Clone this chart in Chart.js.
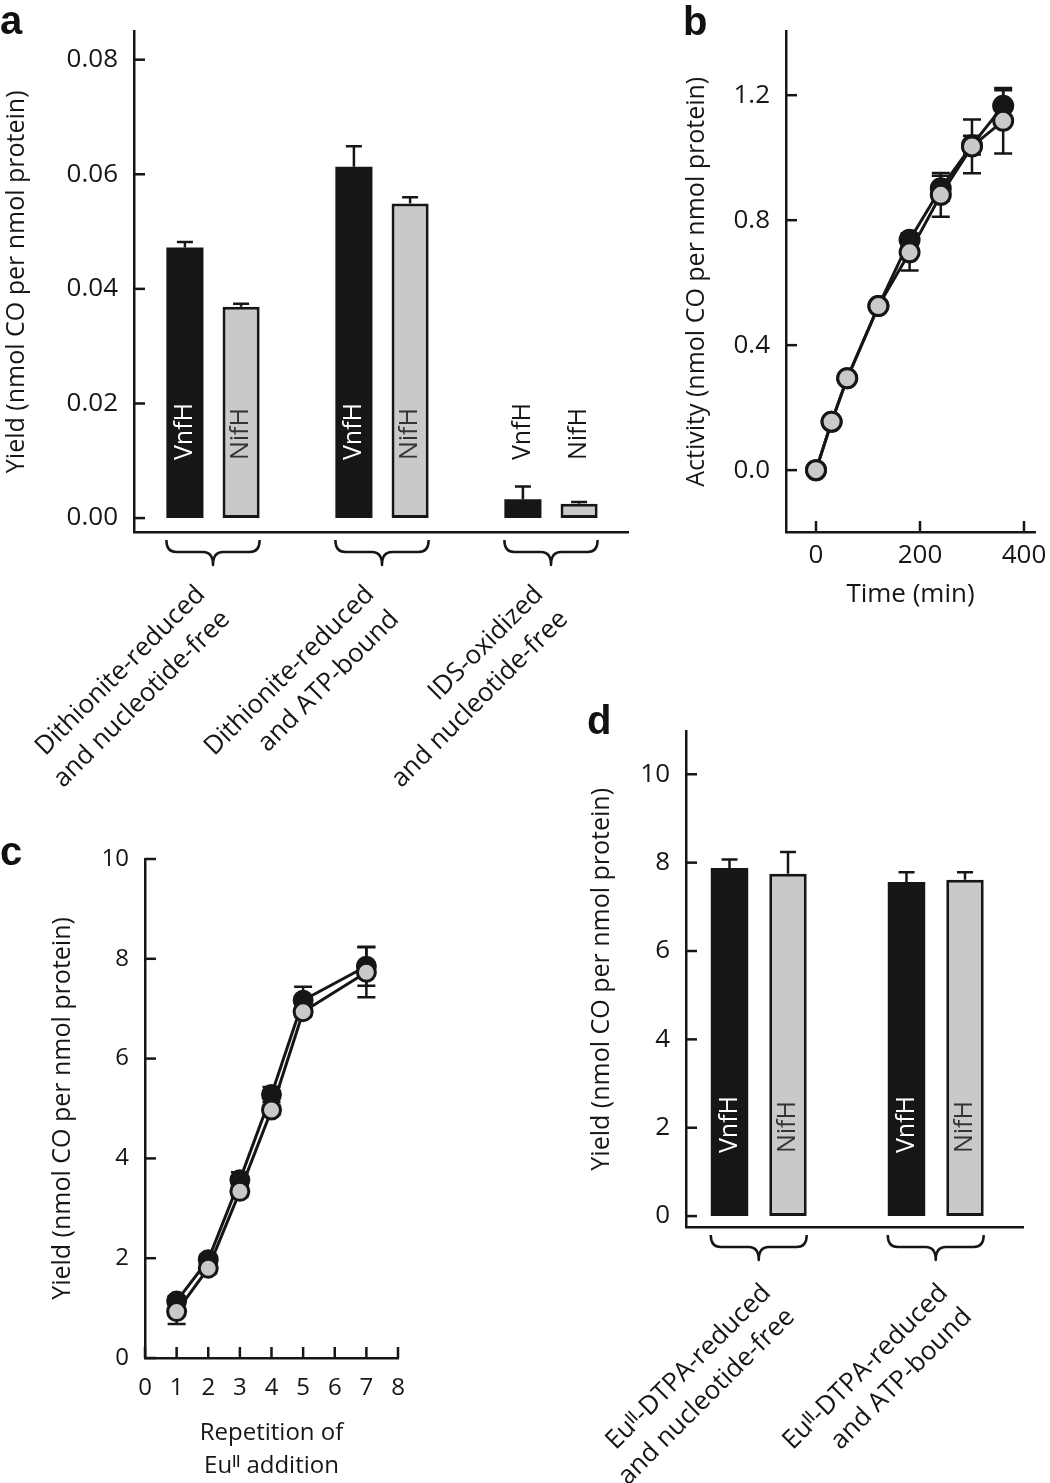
<!DOCTYPE html>
<html>
<head>
<meta charset="utf-8">
<script src="https://cdn.jsdelivr.net/npm/chart.js@4.4.1/dist/chart.umd.min.js"></script>
<style>
  html, body { margin: 0; padding: 0; background: #fff; }
  body { width: 1050px; height: 1483px; position: relative; overflow: hidden; }
  canvas { position: absolute; }
  .panel { position: absolute; font: bold 40px "Liberation Sans", Arial, sans-serif; line-height: 40px; color: #111; z-index: 2; }
</style>
</head>
<body>
<canvas id="chartA" width="660" height="790" style="left:0;top:0"></canvas>
<canvas id="chartB" width="370" height="620" style="left:680px;top:0"></canvas>
<canvas id="chartC" width="440" height="663" style="left:0;top:820px"></canvas>
<canvas id="chartD" width="500" height="783" style="left:550px;top:700px"></canvas>
<div class="panel" style="left:0;top:0">a</div>
<div class="panel" style="left:683px;top:1px">b</div>
<div class="panel" style="left:0;top:831px">c</div>
<div class="panel" style="left:587px;top:700px">d</div>
<script>
const INK = '#161616';
const GREY = '#c9c9c9';

// a: CO yield per Fe protein state
const groupsA = [
    ['Dithionite-reduced', 'and nucleotide-free'],
    ['Dithionite-reduced', 'and ATP-bound'],
    ['IDS-oxidized', 'and nucleotide-free']
];
const vnfhYieldA = [0.0472, 0.0613, 0.0033];
const vnfhErrA = [0.0010, 0.0036, 0.0022];
const nifhYieldA = [0.0369, 0.0549, 0.0025];
const nifhErrA = [0.0005, 0.0011, 0.0003];
const yTicksA = [0, 0.02, 0.04, 0.06, 0.08];

// b: activity over time
const timeB = [0, 30, 60, 120, 180, 240, 300, 360];
const vnfhActB = [0, 0.155, 0.294, 0.525, 0.737, 0.902, 1.04, 1.166];
const vnfhErrB = [0, 0, 0, 0, 0.02, 0.04, 0.03, 0.05];
const nifhActB = [0, 0.155, 0.294, 0.525, 0.697, 0.881, 1.036, 1.118];
const nifhErrB = [0, 0, 0, 0, 0.058, 0.07, 0.086, 0.105];
const xTicksB = [0, 200, 400];
const yTicksB = [0, 0.4, 0.8, 1.2];

// c: repeated Eu(II) additions
const repsC = [1, 2, 3, 4, 5, 7];
const vnfhYieldC = [1.14, 1.97, 3.57, 5.28, 7.17, 7.85];
const vnfhErrC = [0.1, 0.1, 0.15, 0.15, 0.27, 0.39];
const nifhYieldC = [0.93, 1.80, 3.34, 4.97, 6.94, 7.73];
const nifhErrC = [0.25, 0.1, 0.1, 0.1, 0.1, 0.5];
const xTicksC = [0, 1, 2, 3, 4, 5, 6, 7, 8];
const yTicksC = [0, 2, 4, 6, 8, 10];

// d: Eu(II)-DTPA reduced
const groupsD = [
    ['Euᴵᴵ-DTPA-reduced', 'and nucleotide-free'],
    ['Euᴵᴵ-DTPA-reduced', 'and ATP-bound']
];
const vnfhYieldD = [7.88, 7.56];
const vnfhErrD = [0.19, 0.22];
const nifhYieldD = [7.75, 7.61];
const nifhErrD = [0.49, 0.17];
const yTicksD = [0, 2, 4, 6, 8, 10];

Chart.defaults.font.family = '"Open Sans", sans-serif';
Chart.defaults.color = INK;

/* =======================
   SMALL HELPERS
======================= */

const setTicks = vals => scale => { scale.ticks = vals.map(v => ({ value: v })); };
const fixW = w => scale => { scale.width = w; };
// fixed height, and no extra room asked for the slanted labels
const fixH = h => scale => {
    scale.height = h;
    scale.paddingLeft = 0;
    scale.paddingRight = 0;
};
const toPoints = (xs, ys) => xs.map((x, i) => ({ x: x, y: ys[i] }));
const noGrid = { display: false, drawTicks: false };
const axisLine = { display: true, color: INK, width: 2.5 };

/* =======================
   PLUGINS
======================= */

// error bars, drawn under the marks
const errBars = {
    id: 'errBars',
    beforeDatasetsDraw(chart, args, opts) {
        const { ctx } = chart;
        const y = chart.scales.y;
        ctx.save();
        ctx.strokeStyle = INK;
        ctx.lineWidth = 2.5;
        chart.data.datasets.forEach((ds, di) => {
            chart.getDatasetMeta(di).data.forEach((el, i) => {
                const e = ds.errors[i];
                if (!e) return;
                const v = ds.data[i].y;
                const hi = y.getPixelForValue(v + e);
                const lo = y.getPixelForValue(opts.upOnly ? v : v - e);
                ctx.beginPath();
                ctx.moveTo(el.x, lo);
                ctx.lineTo(el.x, hi);
                ctx.moveTo(el.x - opts.cap, hi);
                ctx.lineTo(el.x + opts.cap, hi);
                if (!opts.upOnly) {
                    ctx.moveTo(el.x - opts.cap, lo);
                    ctx.lineTo(el.x + opts.cap, lo);
                }
                ctx.stroke();
            });
        });
        ctx.restore();
    }
};

// "VnfH" / "NifH" written upwards in each bar
const barText = {
    id: 'barText',
    afterDatasetsDraw(chart, args, opts) {
        const { ctx } = chart;
        const base = chart.scales.y.getPixelForValue(0) - opts.lift;
        ctx.save();
        ctx.font = '25px "Open Sans"';
        ctx.textBaseline = 'middle';
        chart.data.datasets.forEach((ds, di) => {
            chart.getDatasetMeta(di).data.forEach((bar, i) => {
                ctx.save();
                ctx.translate(bar.x, base);
                ctx.rotate(-Math.PI / 2);
                ctx.fillStyle = ds.textColor[i];
                ctx.fillText(ds.label, 0, 0);
                ctx.restore();
            });
        });
        ctx.restore();
    }
};

// curly brackets under each pair of bars
const brackets = {
    id: 'brackets',
    afterDraw(chart) {
        const { ctx, chartArea } = chart;
        const first = chart.getDatasetMeta(0).data;
        const second = chart.getDatasetMeta(1).data;
        const top = chartArea.bottom + 8, mid = chartArea.bottom + 20, tip = chartArea.bottom + 33, r = 10;
        ctx.save();
        ctx.strokeStyle = INK;
        ctx.lineWidth = 2.5;
        ctx.lineJoin = 'round';
        first.forEach((bar, i) => {
            const l = bar.x - bar.width / 2;
            const rr = second[i].x + second[i].width / 2;
            const c = (l + rr) / 2;
            ctx.beginPath();
            ctx.moveTo(l, top);
            ctx.quadraticCurveTo(l, mid, l + r, mid);
            ctx.lineTo(c - r, mid);
            ctx.quadraticCurveTo(c, mid, c, tip);
            ctx.quadraticCurveTo(c, mid, c + r, mid);
            ctx.lineTo(rr - r, mid);
            ctx.quadraticCurveTo(rr, mid, rr, top);
            ctx.stroke();
        });
        ctx.restore();
    }
};

// tick marks pointing into the plot
const inTicks = {
    id: 'inTicks',
    afterDraw(chart, args, opts) {
        const { ctx, chartArea } = chart;
        ctx.save();
        ctx.strokeStyle = INK;
        ctx.lineWidth = 2.5;
        opts.axes.forEach(id => {
            const s = chart.scales[id];
            s.ticks.forEach(t => {
                const p = s.getPixelForValue(t.value);
                ctx.beginPath();
                if (s.isHorizontal()) {
                    ctx.moveTo(p, chartArea.bottom);
                    ctx.lineTo(p, chartArea.bottom - opts.len);
                } else {
                    ctx.moveTo(chartArea.left, p);
                    ctx.lineTo(chartArea.left + opts.len, p);
                }
                ctx.stroke();
            });
        });
        ctx.restore();
    }
};

/* =======================
   BAR PANELS (a, d)
======================= */

function barPanel(id, o) {
    new Chart(document.getElementById(id), {
        type: 'bar',
        data: {
            datasets: [{
                label: 'VnfH',
                data: toPoints(o.groups.map((g, i) => i + 1), o.vnfh),
                errors: o.vnfhErr,
                textColor: o.vnfhText,
                backgroundColor: INK,
                borderWidth: 0,
                categoryPercentage: o.cp,
                barPercentage: o.bp
            }, {
                label: 'NifH',
                data: toPoints(o.groups.map((g, i) => i + 1), o.nifh),
                errors: o.nifhErr,
                textColor: o.nifhText,
                backgroundColor: GREY,
                borderColor: INK,
                borderWidth: 3,
                borderSkipped: false,
                categoryPercentage: o.cp,
                barPercentage: o.bp
            }]
        },
        options: {
            responsive: false,
            animation: false,
            layout: { padding: { left: 0, top: o.padTop, right: o.padRight, bottom: 0 } },
            plugins: {
                legend: { display: false },
                tooltip: { enabled: false },
                errBars: { upOnly: true, cap: 8 },
                barText: { lift: o.lift },
                inTicks: { axes: ['y'], len: 11 }
            },
            scales: {
                x: {
                    type: 'linear',
                    offset: false,
                    min: o.xMin,
                    max: o.xMax,
                    afterBuildTicks: setTicks(o.groups.map((g, i) => i + 1)),
                    afterFit: fixH(o.xHeight),
                    grid: noGrid,
                    border: axisLine,
                    ticks: {
                        autoSkip: false,
                        minRotation: 45,
                        maxRotation: 45,
                        padding: o.labelPad,
                        labelOffset: o.labelShift,
                        color: INK,
                        font: { size: 26, lineHeight: o.labelLh },
                        callback: v => o.groups[v - 1]
                    }
                },
                y: {
                    min: o.yMin,
                    max: o.yMax,
                    afterBuildTicks: setTicks(o.yTicks),
                    afterFit: fixW(o.yWidth),
                    grid: noGrid,
                    border: axisLine,
                    ticks: { padding: 16, color: INK, font: { size: 26 }, callback: o.fmt },
                    title: {
                        display: true,
                        text: 'Yield (nmol CO per nmol protein)',
                        color: INK,
                        font: { size: 25 },
                        padding: { top: o.titlePad, bottom: 0 }
                    }
                }
            }
        },
        plugins: [errBars, barText, brackets, inTicks]
    });
}

barPanel('chartA', {
    groups: groupsA,
    vnfh: vnfhYieldA, vnfhErr: vnfhErrA, vnfhText: ['#fff', '#fff', INK],
    nifh: nifhYieldA, nifhErr: nifhErrA, nifhText: ['#333', '#333', INK],
    cp: 0.665, bp: 0.66,
    xMin: 0.5325, xMax: 3.4556,
    yMin: -0.00243, yMax: 0.0849, yTicks: yTicksA, fmt: v => v.toFixed(2),
    padTop: 30, padRight: 32, xHeight: 258, yWidth: 134,
    labelPad: 46, labelShift: -12, labelLh: 1.35,
    lift: 58, titlePad: 1.5
});

barPanel('chartD', {
    groups: groupsD,
    vnfh: vnfhYieldD, vnfhErr: vnfhErrD, vnfhText: ['#fff', '#fff'],
    nifh: nifhYieldD, nifhErr: nifhErrD, nifhText: ['#333', '#333'],
    cp: 0.661, bp: 0.64,
    xMin: 0.589, xMax: 2.493,
    yMin: -0.247, yMax: 10.966, yTicks: yTicksD, fmt: v => String(v),
    padTop: 28, padRight: 27, xHeight: 256, yWidth: 136,
    labelPad: 50, labelShift: 8, labelLh: 1.3,
    lift: 63, titlePad: 37
});

/* =======================
   LINE PANELS (b, c)
======================= */

function linePanel(id, o) {
    const series = (label, ys, errs, fill, order) => ({
        label: label,
        data: toPoints(o.xs, ys),
        errors: errs,
        showLine: true,
        borderColor: INK,
        borderWidth: 3,
        pointRadius: o.radius,
        pointBorderWidth: 3,
        pointBorderColor: INK,
        pointBackgroundColor: fill,
        order: order
    });
    new Chart(document.getElementById(id), {
        type: 'scatter',
        data: {
            datasets: [
                series('VnfH', o.vnfh, o.vnfhErr, INK, 2),
                series('NifH', o.nifh, o.nifhErr, GREY, 1)
            ]
        },
        options: {
            responsive: false,
            animation: false,
            layout: { padding: { left: 0, top: o.padTop, right: o.padRight, bottom: 0 } },
            plugins: {
                legend: { display: false },
                tooltip: { enabled: false },
                errBars: { upOnly: false, cap: 9 },
                inTicks: { axes: ['x', 'y'], len: 11 }
            },
            scales: {
                x: {
                    type: 'linear',
                    min: o.xMin,
                    max: o.xMax,
                    afterBuildTicks: setTicks(o.xTicks),
                    afterFit: fixH(o.xHeight),
                    grid: noGrid,
                    border: axisLine,
                    ticks: { padding: o.xPad, color: INK, font: { size: o.tickSize } },
                    title: {
                        display: true,
                        text: o.xTitle,
                        color: INK,
                        font: { size: o.xTitleSize, lineHeight: 1.35 },
                        padding: { top: 0, bottom: o.xTitlePad }
                    }
                },
                y: {
                    min: o.yMin,
                    max: o.yMax,
                    afterBuildTicks: setTicks(o.yTicks),
                    afterFit: fixW(o.yWidth),
                    grid: noGrid,
                    border: axisLine,
                    ticks: { padding: 16, color: INK, font: { size: o.tickSize }, callback: o.fmt },
                    title: {
                        display: true,
                        text: o.yTitle,
                        color: INK,
                        font: { size: 25 },
                        padding: { top: o.titlePad, bottom: 0 }
                    }
                }
            }
        },
        plugins: [errBars, inTicks]
    });
}

linePanel('chartB', {
    xs: timeB,
    vnfh: vnfhActB, vnfhErr: vnfhErrB,
    nifh: nifhActB, nifhErr: nifhErrB,
    xMin: -57.7, xMax: 421.2, xTicks: xTicksB,
    yMin: -0.198, yMax: 1.4035, yTicks: yTicksB, fmt: v => v.toFixed(1),
    padTop: 30, padRight: 15, xHeight: 88, yWidth: 106,
    xPad: 8, tickSize: 26, radius: 9.5,
    xTitle: 'Time (min)', xTitleSize: 26, xTitlePad: 8,
    yTitle: 'Activity (nmol CO per nmol protein)', titlePad: 2
});

linePanel('chartC', {
    xs: repsC,
    vnfh: vnfhYieldC, vnfhErr: vnfhErrC,
    nifh: nifhYieldC, nifhErr: nifhErrC,
    xMin: 0, xMax: 8, xTicks: xTicksC,
    yMin: 0, yMax: 10, yTicks: yTicksC, fmt: v => String(v),
    padTop: 39, padRight: 42, xHeight: 125, yWidth: 145,
    xPad: 16, tickSize: 24, radius: 9,
    xTitle: ['Repetition of', 'Euᴵᴵ addition'], xTitleSize: 24, xTitlePad: 1,
    yTitle: 'Yield (nmol CO per nmol protein)', titlePad: 47.5
});
</script>
</body>
</html>
